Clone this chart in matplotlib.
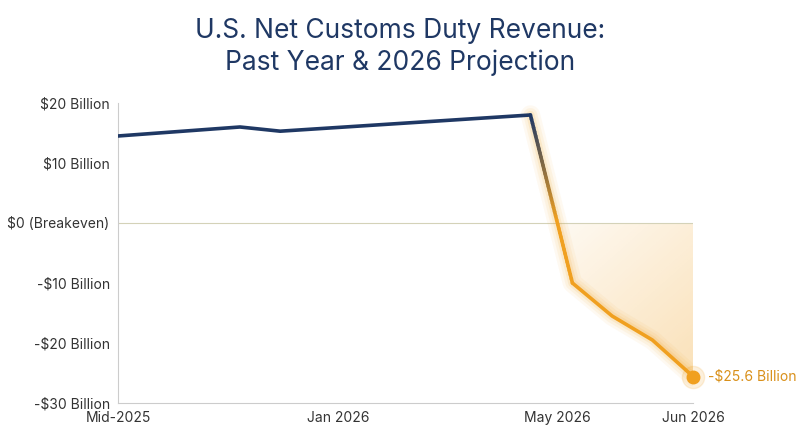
import matplotlib
matplotlib.use("Agg")
import matplotlib.pyplot as plt
import numpy as np
from matplotlib.colors import to_rgb
from matplotlib.patches import Polygon

x_pos = [0, 21.2, 28.2, 71.7, 79.0, 85.9, 92.9, 100]
values = [14.5, 16.0, 15.3, 18.0, -10.0, -15.5, -19.5, -25.6]
tick_pos = [0, 38.3, 76.3, 100]
tick_labels = ["Mid-2025", "Jan 2026", "May 2026", "Jun 2026"]
y_ticks = [20, 10, 0, -10, -20, -30]
y_labels = ["$20 Billion", "$10 Billion", "$0 (Breakeven)", "-$10 Billion", "-$20 Billion", "-$30 Billion"]

navy = "#1f3864"
orange = "#f0a020"
plt.rcParams['font.family'] = ['Inter', 'DejaVu Sans']

fig = plt.figure(figsize=(8, 4.47), dpi=100)
ax = fig.add_axes([0.1475, 0.0984, 0.719, 0.6712])

px = x_pos[3:]
py = values[3:]
x0 = np.interp(0, [py[1], py[0]], [px[1], px[0]])
poly_x = [x0] + px[1:] + [px[-1]]
poly_y = [0] + py[1:] + [0]
poly = Polygon(list(zip(poly_x, poly_y)), closed=True, facecolor='none', edgecolor='none')
ax.add_patch(poly)
grad = np.zeros((100, 100, 4))
grad[..., :3] = to_rgb(orange)
yy = np.linspace(0, 1, 100)[:, None]
xx = np.linspace(0, 1, 100)[None, :]
grad[..., 3] = 0.06 + 0.28 * (0.6 * yy + 0.4 * xx)
im = ax.imshow(grad, extent=[x0, 100, -30, 0], origin='upper', aspect='auto', zorder=1)
im.set_clip_path(poly)
ax.set_xlim(0, 100); ax.set_ylim(-30, 20)

ax.axhline(0, color="#d4d2b8", lw=0.8, zorder=2)

ax.plot(x_pos[:4], values[:4], color=navy, lw=2.6, zorder=4, solid_capstyle='round')
n = 40
tx = np.linspace(x_pos[3], x_pos[4], n + 1)
ty = np.linspace(values[3], values[4], n + 1)
c1, c2 = np.array(to_rgb(navy)), np.array(to_rgb(orange))
for i in range(n):
    t = min(1, i / n * 1.6)
    ax.plot(tx[i:i + 2], ty[i:i + 2], color=c1 * (1 - t) + c2 * t, lw=2.6, zorder=4, solid_capstyle='round')
for w, a in [(14, 0.06), (10, 0.08), (6, 0.12)]:
    ax.plot(x_pos[3:], values[3:], color=orange, lw=w, alpha=a, zorder=3, solid_capstyle='round', solid_joinstyle='round')
ax.plot(x_pos[4:], values[4:], color=orange, lw=2.6, zorder=4, solid_capstyle='round')
ax.plot(x_pos[-1], values[-1], 'o', color=orange, ms=9, zorder=5, clip_on=False)
ax.plot(x_pos[-1], values[-1], 'o', color=orange, ms=16, alpha=0.15, zorder=5, clip_on=False)
ax.text(x_pos[-1] + 2.6, values[-1], "-$25.6 Billion", color="#d9901a", fontsize=10, va='center', ha='left')

ax.set_yticks(y_ticks, y_labels)
ax.set_xticks(tick_pos, tick_labels)
ax.tick_params(length=0, labelsize=10, colors="#333333")
ax.tick_params(axis='y', pad=6)
ax.tick_params(axis='x', pad=6)
for s in ["top", "right"]:
    ax.spines[s].set_visible(False)
for s in ["left", "bottom"]:
    ax.spines[s].set_color("#cccccc")
    ax.spines[s].set_linewidth(0.8)

fig.text(0.5, 0.895, "U.S. Net Customs Duty Revenue:\nPast Year & 2026 Projection",
         ha='center', va='center', fontsize=19, color=navy, linespacing=1.25)
fig.savefig("out.png", dpi=100, facecolor="white")
